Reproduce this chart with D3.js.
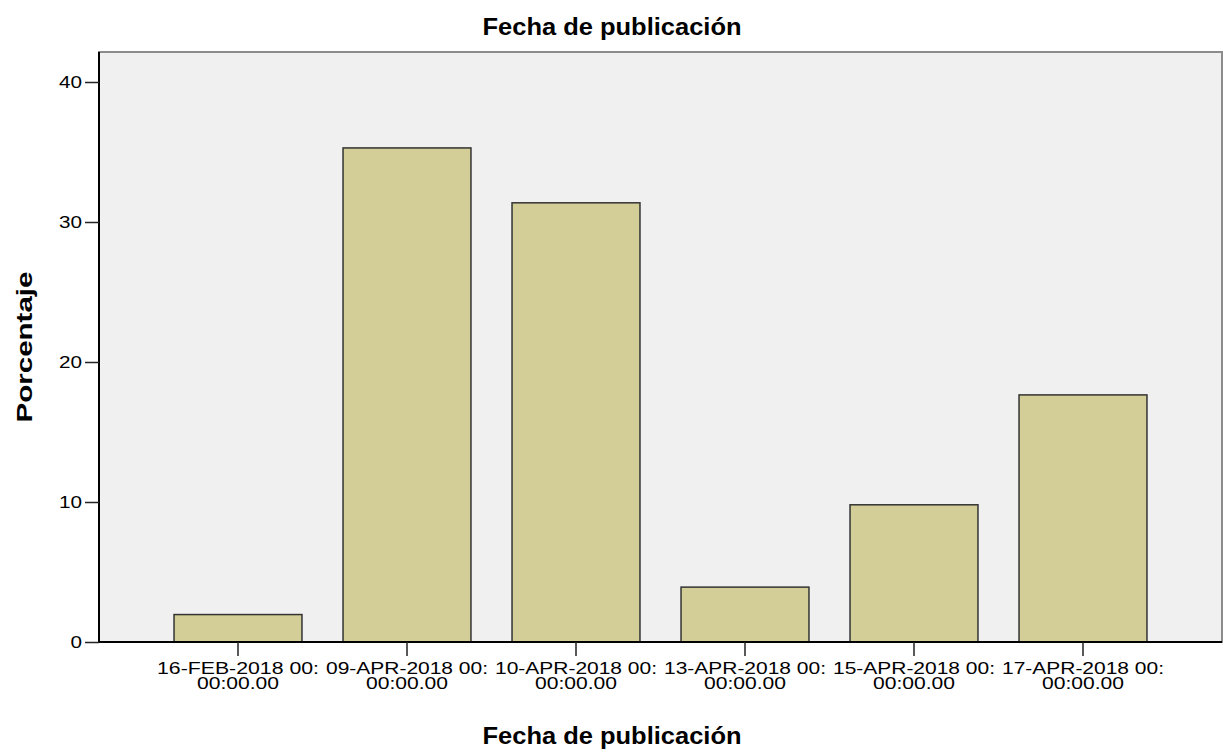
<!DOCTYPE html>
<html>
<head>
<meta charset="utf-8">
<script src="https://cdn.jsdelivr.net/npm/d3@7"></script>
<style>
  body { margin: 0; background: #fff; }
  text { font-family: "Liberation Sans", Arial, sans-serif; fill: #000; }
</style>
</head>
<body>
<div id="chart"></div>
<script>

// Chart data.
var categories = [
  '16-FEB-2018 00:00:00.00',
  '09-APR-2018 00:00:00.00',
  '10-APR-2018 00:00:00.00',
  '13-APR-2018 00:00:00.00',
  '15-APR-2018 00:00:00.00',
  '17-APR-2018 00:00:00.00'
];
var percentages = [1.96, 35.29, 31.37, 3.92, 9.80, 17.65];
var yTicks = [0, 10, 20, 30, 40];

var width = 1223, height = 756;
var plot = { left: 99, right: 1222, top: 52, bottom: 642 };

var svg = d3.select('#chart').append('svg')
  .attr('width', width)
  .attr('height', height);

// Scales.
var x = d3.scaleBand()
  .domain(categories)
  .range([plot.left, plot.right])
  .paddingInner(0.243)
  .paddingOuter(0.444);

var y = d3.scaleLinear()
  .domain([0, (plot.bottom - plot.top) / 14])
  .range([plot.bottom, plot.top]);

// Plot background and frame.
svg.append('rect')
  .attr('x', plot.left)
  .attr('y', plot.top)
  .attr('width', plot.right - plot.left)
  .attr('height', plot.bottom - plot.top)
  .attr('fill', '#f0f0f0')
  .attr('stroke', '#8c8c8c')
  .attr('stroke-width', 2);

// Bars.
svg.selectAll('rect.bar')
  .data(percentages)
  .enter().append('rect')
  .attr('class', 'bar')
  .attr('x', function(d, i) { return x(categories[i]); })
  .attr('y', function(d) { return y(d); })
  .attr('width', x.bandwidth())
  .attr('height', function(d) { return y(0) - y(d); })
  .attr('fill', '#d3ce97')
  .attr('stroke', '#333')
  .attr('stroke-width', 1.5);

// Y axis.
var yAxis = svg.append('g')
  .attr('transform', 'translate(' + plot.left + ',0)')
  .call(d3.axisLeft(y).tickValues(yTicks).tickSize(14).tickPadding(3).tickFormat(d3.format('d')));
yAxis.select('.domain').attr('stroke', '#000').attr('stroke-width', 2)
  .attr('d', 'M0,' + plot.top + 'V' + plot.bottom);
yAxis.selectAll('.tick line').attr('stroke', '#222').attr('stroke-width', 1.5);
yAxis.selectAll('.tick text')
  .style('font-size', '17px')
  .attr('textLength', function(d) { return String(d).length * 11.5; })
  .attr('lengthAdjust', 'spacingAndGlyphs');

// X axis.
var xAxis = svg.append('g')
  .attr('transform', 'translate(0,' + plot.bottom + ')')
  .call(d3.axisBottom(x).tickSize(14).tickFormat(''));
xAxis.select('.domain').attr('stroke', '#000').attr('stroke-width', 2)
  .attr('d', 'M' + plot.left + ',0H' + plot.right);
xAxis.selectAll('.tick line').attr('stroke', '#222').attr('stroke-width', 1.5);

// Two-line tick labels.
var labels = svg.append('g').selectAll('text')
  .data(categories)
  .enter().append('text')
  .attr('text-anchor', 'middle')
  .style('font-size', '17px');
labels.append('tspan')
  .attr('x', function(d) { return x(d) + x.bandwidth() / 2; })
  .attr('y', 674)
  .attr('textLength', 162)
  .attr('lengthAdjust', 'spacingAndGlyphs')
  .text(function(d) { return d.slice(0, 15); });
labels.append('tspan')
  .attr('x', function(d) { return x(d) + x.bandwidth() / 2; })
  .attr('y', 689)
  .attr('textLength', 82)
  .attr('lengthAdjust', 'spacingAndGlyphs')
  .text(function(d) { return d.slice(15); });

// Titles.
svg.append('text')
  .attr('x', 612).attr('y', 35)
  .attr('text-anchor', 'middle')
  .style('font-size', '23px').style('font-weight', 'bold')
  .attr('textLength', 259).attr('lengthAdjust', 'spacingAndGlyphs')
  .text('Fecha de publicación');

svg.append('text')
  .attr('x', 612).attr('y', 744)
  .attr('text-anchor', 'middle')
  .style('font-size', '23px').style('font-weight', 'bold')
  .attr('textLength', 259).attr('lengthAdjust', 'spacingAndGlyphs')
  .text('Fecha de publicación');

svg.append('text')
  .attr('transform', 'translate(32,347) rotate(-90)')
  .attr('text-anchor', 'middle')
  .style('font-size', '22px').style('font-weight', 'bold')
  .attr('textLength', 151).attr('lengthAdjust', 'spacingAndGlyphs')
  .text('Porcentaje');

</script>
</body>
</html>
